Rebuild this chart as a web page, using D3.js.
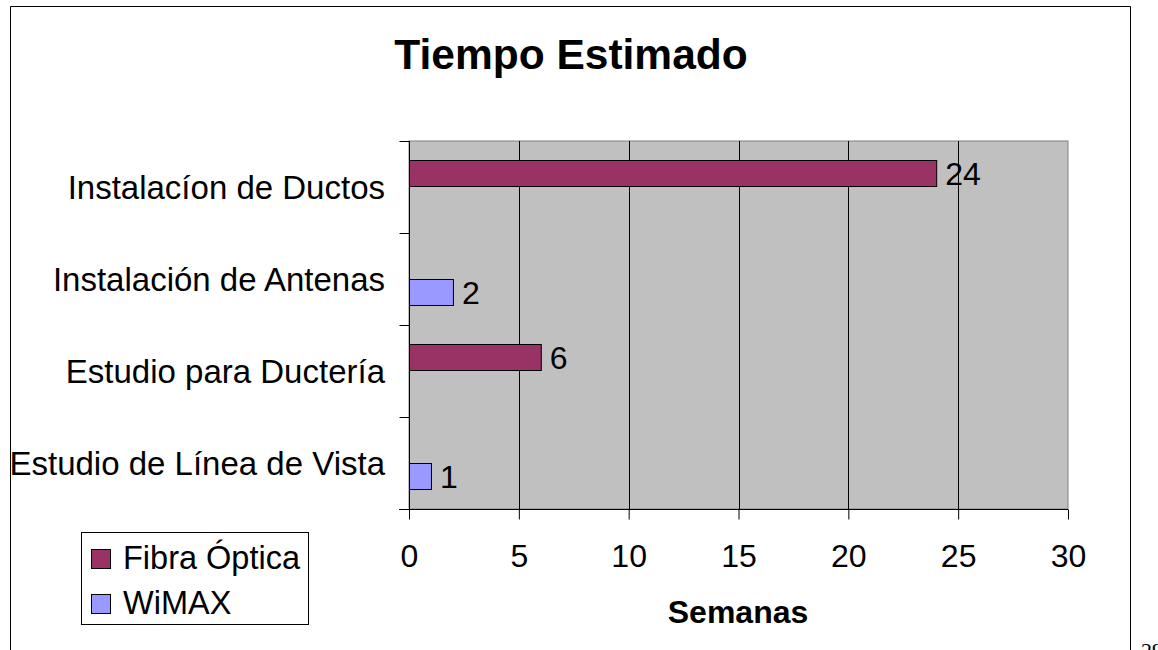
<!DOCTYPE html>
<html style="overflow:hidden;">
<head>
	<meta charset="utf-8">
	<script src="https://cdnjs.cloudflare.com/ajax/libs/d3/7.8.5/d3.min.js" charset="utf-8"></script>
	<style>
		body { margin:0; background:#fff; }
		text { font-family: Arial, "Liberation Sans", sans-serif; fill:#000; }
	</style>
</head>
<body>
<div id="chart"></div>
<script>
// data
var categories = ["Instalacíon de Ductos", "Instalación de Antenas", "Estudio para Ductería", "Estudio de Línea de Vista"];
var seriesNames = ["Fibra Óptica", "WiMAX"];
var fibraValues = [24, null, 6, null];
var wimaxValues = [null, 2, null, 1];
var xTicks = [0, 5, 10, 15, 20, 25, 30];
var seriesColors = ["#993366", "#9999ff"];

var width = 1158, height = 650;
var plot = {left: 409, right: 1068, top: 141, bottom: 509};

var svg = d3.select("#chart").append("svg")
    .attr("width", width)
    .attr("height", height);

// outer frame (runs off the bottom of the page)
svg.append("path")
    .attr("d", "M10.5,660 V6.5 H1130.5 V660")
    .style("fill", "none")
    .style("stroke", "#000");

// page number, cut by the page edge as in the original
svg.append("text")
    .attr("x", 1141).attr("y", 658)
    .style("font-family", "'Liberation Serif', 'DejaVu Serif', serif")
    .style("font-size", "22px")
    .text("29");

var x = d3.scaleLinear().domain([0, 30]).range([plot.left, plot.right]);
var y = d3.scaleBand().domain(categories).range([plot.top, plot.bottom]);
var ySub = d3.scaleBand().domain(seriesNames).range([0, y.bandwidth()]).paddingOuter(0.704);

// plot area
svg.append("rect")
    .attr("x", plot.left).attr("y", plot.top)
    .attr("width", plot.right - plot.left).attr("height", plot.bottom - plot.top)
    .style("fill", "#c0c0c0")
    .style("stroke", "#808080");

// gridlines
svg.append("g").selectAll("line")
  .data(xTicks.filter(function(d){ return d > 0 && d < 30; }))
  .enter().append("line")
    .attr("x1", function(d){ return Math.round(x(d)) + 0.5; })
    .attr("x2", function(d){ return Math.round(x(d)) + 0.5; })
    .attr("y1", plot.top).attr("y2", plot.bottom)
    .style("stroke", "#000");

// bars
var rows = categories.map(function(c, i) {
  return {cat: c, vals: [fibraValues[i], wimaxValues[i]]};
});
var groups = svg.append("g").selectAll("g")
  .data(rows).enter().append("g")
    .attr("transform", function(d){ return "translate(0," + y(d.cat) + ")"; });

var cells = groups.selectAll("g")
  .data(function(d){
    return d.vals.map(function(v, j){ return {name: seriesNames[j], v: v, color: seriesColors[j]}; })
      .filter(function(e){ return e.v != null; });
  })
  .enter().append("g");

cells.append("rect")
    .attr("x", x(0) + 0.5)
    .attr("y", function(d){ return Math.round(ySub(d.name)) + 0.5; })
    .attr("width", function(d){ return x(d.v) - x(0); })
    .attr("height", Math.round(ySub.bandwidth()) - 1)
    .style("fill", function(d){ return d.color; })
    .style("stroke", "#000");

cells.append("text")
    .attr("x", function(d){ return x(d.v) + 9; })
    .attr("y", function(d){ return ySub(d.name) + ySub.bandwidth() / 2; })
    .attr("dy", "0.36em")
    .style("font-size", "32px")
    .text(function(d){ return d.v; });

// y axis
var yAxis = svg.append("g")
    .attr("transform", "translate(" + (plot.left + 0.5) + ",0)");
yAxis.append("line")
    .attr("y1", plot.top).attr("y2", plot.bottom)
    .style("stroke", "#000");
yAxis.selectAll(".tk")
  .data(categories.map(function(c){ return y(c); }).concat([plot.bottom]))
  .enter().append("line")
    .attr("x1", -10).attr("x2", 0)
    .attr("y1", function(d){ return Math.round(d) + 0.5; })
    .attr("y2", function(d){ return Math.round(d) + 0.5; })
    .style("stroke", "#000");
svg.append("g").selectAll("text")
  .data(categories).enter().append("text")
    .attr("x", 385)
    .attr("y", function(d){ return y(d) + y.bandwidth() / 2; })
    .attr("dy", "0.36em")
    .attr("text-anchor", "end")
    .style("font-size", "33px")
    .text(function(d){ return d; });

// x axis
var xAxis = svg.append("g")
    .attr("transform", "translate(0," + (plot.bottom + 0.5) + ")")
    .call(d3.axisBottom(x).tickValues(xTicks).tickSize(10).tickPadding(25).tickSizeOuter(0));
xAxis.select(".domain").attr("d", "M" + (plot.left - 10) + ",0H" + plot.right).style("stroke", "#000");
xAxis.selectAll(".tick line").style("stroke", "#000");
xAxis.selectAll(".tick text")
    .style("font-family", "Arial, 'Liberation Sans', sans-serif")
    .style("font-size", "32px")
    .attr("fill", "#000");

// titles
svg.append("text")
    .attr("x", 571).attr("y", 69)
    .attr("text-anchor", "middle")
    .style("font-size", "42.5px")
    .style("font-weight", "bold")
    .text("Tiempo Estimado");

svg.append("text")
    .attr("x", 738).attr("y", 623)
    .attr("text-anchor", "middle")
    .style("font-size", "32px")
    .style("font-weight", "bold")
    .text("Semanas");

// legend
var legend = svg.append("g");
legend.append("rect")
    .attr("x", 81.5).attr("y", 532.5)
    .attr("width", 227).attr("height", 92)
    .style("fill", "#fff")
    .style("stroke", "#000");
var items = legend.selectAll("g")
  .data(seriesNames).enter().append("g")
    .attr("transform", function(d, i){ return "translate(0," + (i * 45) + ")"; });
items.append("rect")
    .attr("x", 91.5).attr("y", 549.5)
    .attr("width", 19).attr("height", 19)
    .style("fill", function(d, i){ return seriesColors[i]; })
    .style("stroke", "#000");
items.append("text")
    .attr("x", 123).attr("y", 569)
    .style("font-size", "32.5px")
    .text(function(d){ return d; });
</script>
</body>
</html>
